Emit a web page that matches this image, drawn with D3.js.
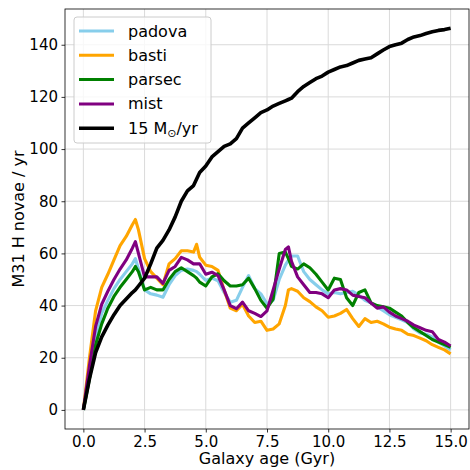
<!DOCTYPE html>
<html><head><meta charset="utf-8">
<script src="https://cdn.jsdelivr.net/npm/d3@7"></script>
<style>html,body{margin:0;padding:0;background:#fff;} text{font-family:"DejaVu Sans",sans-serif;}</style>
</head><body><svg id="c" width="470" height="470"></svg>
<script>
const ages = [0,0.25,0.5,0.75,1,1.25,1.5,1.75,2,2.125,
  2.25,2.5,2.75,3,3.25,3.5,3.75,4,4.25,4.5,
  4.625,4.75,5,5.25,5.5,5.75,6,6.25,6.5,6.75,
  7,7.25,7.5,7.75,8,8.25,8.375,8.5,8.75,9,
  9.25,9.5,9.75,10,10.25,10.5,10.75,11,11.25,11.5,
  11.75,12,12.25,12.5,12.75,13,13.25,13.5,13.75,14,
  14.25,14.5,14.75,15];
const padova = [0,14,28,37,42,46.5,50,53,56,58,
  54,46,44.5,44,43.2,48,51.5,53.5,54,53.5,
  53,52,49.6,50.5,49.5,45,41.3,42,47,51.5,
  46.5,44.5,40.7,42,50,55.5,57.5,59,59,53,
  50,48,46,44.5,45,44.5,45,45.5,44,42,
  41,39.5,38,36.5,35.5,34.5,33.5,31,29.5,29,
  28,26,24.5,23];
const basti = [0,20,38,47,52,57.5,63,66.5,71,73,
  69,58,53,50.5,48,56,58,61,61,60.5,
  63.5,58.5,55.5,55,53.5,46,39,38,40.5,36,
  33.5,34,30.5,31,33,40,46,46.5,45.5,43,
  41.5,39.5,38,35.5,36,37,38.5,35,32,35,
  33.5,34,33,31.7,31,30.5,29,28.5,27.5,26.5,
  25,24,23,21.5];
const parsec = [0,12,25,33,39,43.5,47,50,53,55,
  53,46,47,46,46,50,53,54.5,53,51.5,
  50.5,49,47.5,51,52.2,49.5,47.5,47.5,48,50.5,
  46.5,42,39,42.5,60,60.5,58,55,54,56,
  54.5,52,49,46,50.5,50,43,40,45,46,
  41,40,39.5,39,37.5,36,33.5,31.5,30,28.5,
  27,26,25,24];
const mist = [0,17,32,40.5,45.5,50,54,57.5,62,64.5,
  60,51,51,51,48.5,53.5,55,58.5,57.5,56,
  56,56,52,52.8,51.5,46,40,38.8,41.3,38,
  37,35.8,38,46,54,61.5,62.5,57,51,48,
  45,45,44.5,43,46,46.5,46,44,43.5,43,
  41,39,39.5,37.5,36,35,34,32.5,31.5,30.5,
  30,27,26,24.5];
const rate15 = [0,12,22,28,32.5,36.5,40,42.5,45,46,
  47.5,50.5,56,62,65,69,74,80,84,86,
  88.5,91,93.5,97,99,101,102,104,108,110,
  112,114,115,116.5,117.5,118.5,119,119.5,122,124,
  125.5,127,128,129.5,130.5,131.5,132,133,134,134.5,
  135,136.5,138,139.3,140,140.6,142,143,143.5,144.3,
  145,145.5,145.8,146.3];
const seriesNames = ["padova","basti","parsec","mist","15 M"];
const seriesColors = ["#87ceeb","#ffa500","#008000","#800080","#000000"];
const xTicks = [0,2.5,5,7.5,10,12.5,15];
const yTicks = [0,20,40,60,80,100,120,140];

const series = [padova,basti,parsec,mist,rate15];
const svg = d3.select("#c");
const L=65,R=469,T=9,B=429;
const x = d3.scaleLinear().domain([-0.75,15.75]).range([L,R]);
const y = d3.scaleLinear().domain([-7.32,153.7]).range([B,T]);

const g = svg.append("g");
g.selectAll(".gx").data(xTicks).enter().append("line")
  .attr("x1",d=>x(d)).attr("x2",d=>x(d)).attr("y1",T).attr("y2",B)
  .attr("stroke","#dadada").attr("stroke-width",1);
g.selectAll(".gy").data(yTicks).enter().append("line")
  .attr("y1",d=>y(d)).attr("y2",d=>y(d)).attr("x1",L).attr("x2",R)
  .attr("stroke","#dadada").attr("stroke-width",1);

svg.append("clipPath").attr("id","cp").append("rect").attr("x",L).attr("y",T).attr("width",R-L).attr("height",B-T);
series.forEach((s,i)=>{
  const pts = s.map((v,j)=>[ages[j],v]).filter(p=>p[0]!==undefined);
  const line = d3.line().x(p=>x(p[0])).y(p=>y(p[1]));
  svg.append("path").datum(pts).attr("d",line).attr("fill","none")
    .attr("stroke",seriesColors[i]).attr("stroke-width",i===4?3.6:3.1)
    .attr("stroke-linejoin","round").attr("clip-path","url(#cp)");
});

const xa = svg.append("g").attr("transform",`translate(0,${B})`)
  .call(d3.axisBottom(x).tickValues(xTicks).tickFormat(d3.format(".1f")).tickSize(3.5).tickPadding(3.5));
const ya = svg.append("g").attr("transform",`translate(${L},0)`)
  .call(d3.axisLeft(y).tickValues(yTicks).tickFormat(d3.format("d")).tickSize(3.5).tickPadding(3.5));
[xa,ya].forEach(a=>{
  a.select(".domain").remove();
  a.selectAll("text").attr("font-size",15).attr("fill","#000").attr("font-family","DejaVu Sans");
  a.selectAll("line").attr("stroke","#000").attr("stroke-width",0.8);
});
svg.append("rect").attr("x",L).attr("y",T).attr("width",R-L).attr("height",B-T)
  .attr("fill","none").attr("stroke","#000").attr("stroke-width",0.8);

svg.append("text").attr("x",(L+R)/2).attr("y",464).attr("text-anchor","middle")
  .attr("font-size",16).text("Galaxy age (Gyr)");
svg.append("text").attr("transform",`translate(24,${(T+B)/2}) rotate(-90)`).attr("text-anchor","middle")
  .attr("font-size",16).text("M31 H novae / yr");

const lg = svg.append("g");
lg.append("rect").attr("x",74).attr("y",17).attr("width",137).attr("height",126).attr("rx",3)
  .attr("fill","#fff").attr("fill-opacity",0.8).attr("stroke","#cccccc").attr("stroke-width",1);
seriesNames.forEach((n,i)=>{
  const yy = 31 + i*24.3;
  lg.append("line").attr("x1",79).attr("x2",114).attr("y1",yy).attr("y2",yy)
    .attr("stroke",seriesColors[i]).attr("stroke-width",i===4?3.6:3);
  const t = lg.append("text").attr("x",128).attr("y",yy+5.5).attr("font-size",16);
  if(i===4){
    t.append("tspan").text("15 M");
    t.append("tspan").attr("font-size",11).attr("dy",3).text("\u2299");
    t.append("tspan").attr("dy",-3).text("/yr");
  } else t.text(n);
});
</script></body></html>
